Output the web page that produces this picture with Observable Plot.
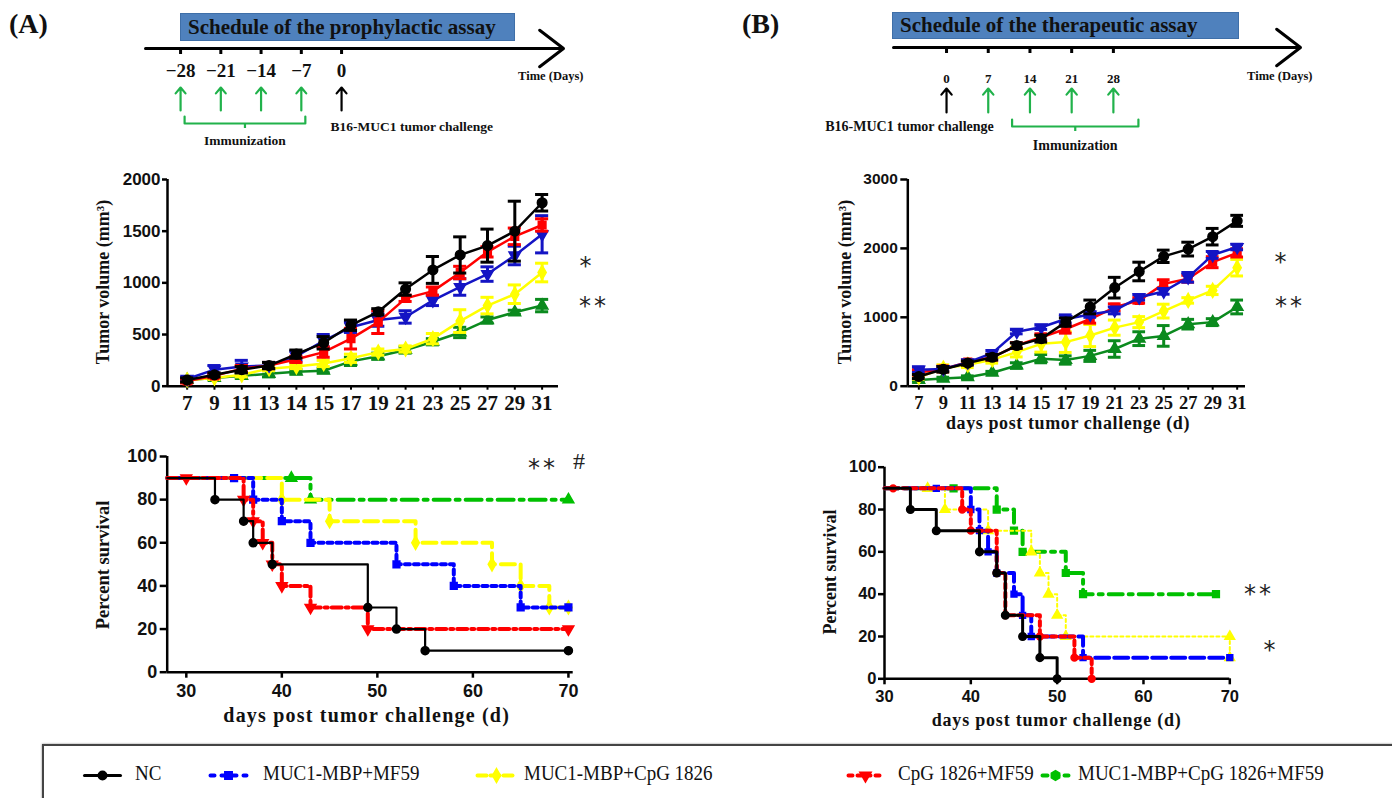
<!DOCTYPE html>
<html><head><meta charset="utf-8">
<script src="https://cdn.jsdelivr.net/npm/d3@7"></script>
<script src="https://cdn.jsdelivr.net/npm/@observablehq/plot@0.6"></script>
<style>
html,body{margin:0;padding:0;background:#fff;}
#root{position:relative;width:1392px;height:798px;overflow:hidden;background:#fff;}
.abs{position:absolute;}
.sb{font-family:"Liberation Serif",serif;font-weight:bold;color:#111;white-space:nowrap;}
.rot{transform:translate(-50%,-50%) rotate(-90deg);}
.ctr{transform:translate(-50%,-50%);}
.box{background:#4f81bd;border:1px solid #3f6fa8;box-sizing:border-box;}
.leg{font-family:"Liberation Serif",serif;font-size:19px;color:#111;white-space:nowrap;transform:scaleY(1.15);transform-origin:left center;}
svg{overflow:visible;}
</style></head>
<body><div id="root"></div>
<script>
// ---------- data ----------
const days = [7,9,11,13,14,15,17,19,21,23,25,27,29,31];
const groupNames = ["NC","MUC1-MBP+MF59","MUC1-MBP+CpG 1826","CpG 1826+MF59","MUC1-MBP+CpG 1826+MF59"];

// Panel A tumor volume (mean, error)
const volA_NC      = [60,110,160,200,310,420,590,720,940,1125,1270,1360,1500,1775];
const volA_NC_err  = [20,20,30,30,40,60,50,30,60,130,175,160,290,80];
const volA_MF59    = [70,160,190,200,290,440,570,640,670,830,960,1085,1265,1470];
const volA_MF59_err= [20,40,60,30,50,60,50,60,60,50,80,70,90,180];
const volA_CpG     = [60,80,110,170,190,220,270,330,360,460,630,780,890,1100];
const volA_CpG_err = [15,15,20,20,20,30,40,30,30,50,110,80,90,90];
const volA_CM      = [50,100,170,200,260,330,460,620,850,920,1100,1300,1450,1560];
const volA_CM_err  = [20,20,30,30,30,50,100,110,30,40,60,50,80,60];
const volA_All     = [60,80,100,120,140,150,240,290,350,430,520,640,715,780];
const volA_All_err = [15,15,20,30,20,20,40,30,30,30,50,30,20,60];

// Panel B tumor volume (mean, error)
const volB_NC      = [140,245,335,420,590,690,930,1150,1430,1665,1885,1990,2170,2400];
const volB_NC_err  = [30,40,30,40,40,50,60,100,150,135,90,100,120,80];
const volB_MF59    = [240,250,345,480,790,855,975,1040,1100,1290,1375,1580,1905,2020];
const volB_MF59_err= [40,30,30,30,30,30,60,40,50,40,40,70,50,40];
const volB_CpG     = [130,260,310,385,495,615,640,735,850,930,1090,1245,1390,1720];
const volB_CpG_err = [30,50,40,50,70,120,150,160,110,80,100,40,60,120];
const volB_CM      = [200,250,350,420,590,710,830,975,1145,1245,1485,1560,1800,1935];
const volB_CM_err  = [40,40,30,40,40,50,60,60,50,40,60,50,80,60];
const volB_All     = [90,110,130,195,300,400,380,440,540,690,730,900,930,1150];
const volB_All_err = [20,20,20,20,40,60,60,80,120,100,150,70,50,100];

// Survival A: step points [day, %] and censored marks
const survA_NC   = [[28,90],[33,80],[36,70],[37,60],[39,50],[49,30],[52,20],[55,10],[70,10]];
const survA_MF59 = [[28,90],[37,80],[40,70],[43,60],[52,50],[58,40],[65,30],[70,30]];
const survA_CpG  = [[28,90],[40,80],[45,70],[54,60],[62,50],[65,40],[68,30],[70,30]];
const survA_CM   = [[28,90],[36,80],[37,70],[38,60],[39,50],[40,40],[43,30],[49,20],[70,20]];
const survA_All  = [[28,90],[43,80],[70,80]];
const censA_MF59 = [[35,90]];
const censA_CM   = [[30,90]];
const censA_All  = [[41,90]];

// Survival B
const survB_NC   = [[30,90],[33,80],[36,70],[41,60],[43,50],[44,30],[46,20],[48,10],[50,0]];
const survB_MF59 = [[30,90],[40,80],[41,70],[42,60],[43,50],[45,40],[46,30],[47,20],[53,10],[70,10]];
const survB_CM   = [[30,90],[39,80],[40,70],[43,50],[44,30],[48,20],[52,10],[54,0]];
const survB_CpG  = [[30,90],[37,80],[42,70],[47,60],[48,50],[49,40],[50,30],[51,20],[70,20],[70,10]];
const survB_All  = [[30,90],[43,80],[45,70],[46,60],[51,50],[53,40],[68.4,40]];
const censB_CM   = [[31,90]];
const censB_CpG  = [[35,90]];
const censB_MF59 = [[36,90]];
const censB_All  = [[38,90]];

// Schedules
const schedA_days = [-28,-21,-14,-7,0];
const schedA_immun = [-28,-21,-14,-7];
const schedB_days = [0,7,14,21,28];
const schedB_immun = [7,14,21,28];
const challengeDay = 0;

// ---------- helpers ----------
const root = document.getElementById("root");
const SERIF = "Liberation Serif, Times New Roman, serif";
const SANS = "Liberation Sans, Arial, sans-serif";
function place(el, left, top){ el.style.position="absolute"; el.style.left=left+"px"; el.style.top=top+"px"; root.appendChild(el); return el; }
function html(cls, text, left, top, css){ const d=document.createElement("div"); d.className="abs "+cls; d.textContent=text; Object.assign(d.style, css||{}); d.style.left=left+"px"; d.style.top=top+"px"; root.appendChild(d); return d; }
const minusFmt = d => d < 0 ? "\u2212" + Math.abs(d) : String(d);
const plainFmt = d => String(d);

// ---------- schedule ----------
function schedPlot(o){
  const green = "#21b24b";
  const yAxisLine = o.lineY;
  const bx = o.bracket;
  const mid = (bx[0]+bx[1])/2;
  const bracketPts = [[bx[0], o.brY0],[bx[0], o.brY1],[bx[1], o.brY1],[bx[1], o.brY0]];
  return Plot.plot({
    width:o.width, height:160, marginLeft:o.ml, marginRight:o.mr, marginTop:0, marginBottom:0,
    x:{domain:o.xDomain, axis:null}, y:{domain:[0,160], range:[0,160], axis:null},
    style:{background:"transparent", overflow:"visible"},
    marks:[
      Plot.arrow([o.xDomain], {x1:d=>d[0], x2:d=>d[1], y1:yAxisLine, y2:yAxisLine, stroke:"#000", strokeWidth:3, headLength:15, headAngle:75}),
      Plot.ruleX(o.days, {x:d=>d, y1:yAxisLine, y2:yAxisLine+6, stroke:"#000", strokeWidth:3}),
      Plot.text(o.days, {x:d=>d, y:o.labY, text:minusFmt, fontFamily:SERIF, fontWeight:"bold", fontSize:o.labSize, fill:"#111"}),
      Plot.arrow(o.immun, {x1:d=>d, x2:d=>d, y1:o.arY1, y2:o.arY0, stroke:green, strokeWidth:2.2, headLength:10, headAngle:80}),
      Plot.arrow([challengeDay], {x1:d=>d, x2:d=>d, y1:o.arY1, y2:o.arY0, stroke:"#000", strokeWidth:2.2, headLength:10, headAngle:80}),
      Plot.line(bracketPts, {x:d=>d[0], y:d=>d[1], stroke:green, strokeWidth:2.2, strokeLinejoin:"round"}),
      Plot.ruleX([mid], {x:d=>d, y1:o.brY1, y2:o.brY1+5, stroke:green, strokeWidth:2.2}),
      Plot.text(["Immunization"], {x:mid, y:o.immY, text:d=>d, fontFamily:SERIF, fontWeight:"bold", fontSize:o.immSize, fill:"#111"}),
      Plot.text(["B16-MUC1 tumor challenge"], {x:challengeDay, dx:o.chDx, y:o.chY, text:d=>d, textAnchor:o.chAnchor, fontFamily:SERIF, fontWeight:"bold", fontSize:o.chSize, fill:"#111"}),
      Plot.text(["Time (Days)"], {frameAnchor:"right", dx:o.timeDx, y:o.timeY, text:d=>d, textAnchor:"end", fontFamily:SERIF, fontWeight:"bold", fontSize:12.5, fill:"#111"})
    ]
  });
}

// ---------- tumor volume ----------
function volPlot(o){
  const idx = d3.range(days.length);
  const marks = [
    Plot.ruleY([0], {stroke:"#000", strokeWidth:2.5}),
    Plot.ruleX([o.xDomain[0]], {y1:0, y2:o.yMax, stroke:"#000", strokeWidth:2.5}),
    Plot.axisY({ticks:o.yTicks, tickFormat:plainFmt, tickSize:o.yts, tickPadding:o.ytp, strokeWidth:2.5, fontFamily:SANS, fontWeight:"bold", fontSize:o.yFont, fill:"#111", label:null}),
    Plot.axisX({ticks:idx, tickFormat:i=>days[i], tickSize:4, tickPadding:o.xtp, strokeWidth:2, fontFamily:SERIF, fontWeight:"bold", fontSize:o.xFont, fill:"#111", label:null})
  ];
  for (const s of o.series){
    const d = s.v.map((v,i)=>({i, v, e:s.e[i]}));
    marks.push(
      Plot.ruleX(d, {x:"i", y1:r=>r.v-r.e, y2:r=>r.v+r.e, stroke:s.color, strokeWidth:3}),
      Plot.ruleY(d, {y:r=>r.v+r.e, x1:r=>r.i-o.cap, x2:r=>r.i+o.cap, stroke:s.color, strokeWidth:3}),
      Plot.ruleY(d, {y:r=>r.v-r.e, x1:r=>r.i-o.cap, x2:r=>r.i+o.cap, stroke:s.color, strokeWidth:3}),
      Plot.line(d, {x:"i", y:"v", stroke:s.color, strokeWidth:2.5}),
      Plot.dot(d, {x:"i", y:"v", symbol:s.symbol, rotate:s.rot||0, r:s.symbol==="circle"?4.8:4.3, fill:s.color, stroke:s.color})
    );
  }
  return Plot.plot({
    width:o.width, height:o.height, marginLeft:o.ml, marginRight:o.mr, marginTop:o.mt, marginBottom:o.mb,
    x:{domain:o.xDomain}, y:{domain:[0,o.yMax]},
    style:{background:"transparent", overflow:"visible"},
    marks
  });
}

// ---------- survival ----------
function survPlot(o){
  const marks = [
    Plot.ruleY([0], {stroke:"#000", strokeWidth:2.5}),
    Plot.ruleX([o.xDomain[0]], {y1:0, y2:100, stroke:"#000", strokeWidth:2.5}),
    Plot.axisY({ticks:[0,20,40,60,80,100], tickFormat:plainFmt, tickSize:o.yts, tickPadding:o.ytp, strokeWidth:2.5, fontFamily:SANS, fontWeight:"bold", fontSize:o.font, fill:"#111", label:null}),
    Plot.axisX({ticks:[30,40,50,60,70], tickFormat:plainFmt, tickSize:6, tickPadding:o.xtp, strokeWidth:2.5, fontFamily:SANS, fontWeight:"bold", fontSize:o.font, fill:"#111", label:null})
  ];
  for (const s of o.series){
    marks.push(
      Plot.line(s.pts, {x:d=>d[0], y:d=>d[1], curve:"step-after", stroke:s.color, strokeWidth:s.w, strokeDasharray:s.dash||null}),
      Plot.dot(s.pts.slice(1).concat(s.cens||[]), {x:d=>d[0], y:d=>d[1], symbol:s.symbol, rotate:s.rot||0, r:s.r||4, fill:s.color, stroke:s.color})
    );
  }
  return Plot.plot({
    width:o.width, height:o.height, marginLeft:o.ml, marginRight:o.mr, marginTop:o.mt, marginBottom:o.mb,
    x:{domain:o.xDomain}, y:{domain:[0,100]},
    style:{background:"transparent", overflow:"visible"},
    marks
  });
}

// ---------- colours ----------
const volColors = {NC:"#000000", MF59:"#1414c4", CpG:"#ffff00", CM:"#ff0000", All:"#0b8a1e"};
const survColors = {NC:"#000000", MF59:"#0000ff", CpG:"#ffff00", CM:"#ff0000", All:"#00c000"};

// ---------- build ----------
html("sb","(A)",9,8,{fontSize:"28px"});
html("sb","(B)",742,8,{fontSize:"28px"});
html("box sb","Schedule of the prophylactic assay",180,13,{width:"335px",height:"28px",fontSize:"21px",lineHeight:"26px",paddingLeft:"7px"});
html("box sb","Schedule of the therapeutic assay",892,12,{width:"347px",height:"27px",fontSize:"21px",lineHeight:"25px",paddingLeft:"7px"});

place(schedPlot({width:600, ml:145, mr:37, xDomain:[-34.1,38.6], days:schedA_days, immun:schedA_immun,
  lineY:48, labY:70, labSize:19, arY0:87, arY1:110, bracket:[-27.3,-6.3], brY0:116, brY1:123, immY:140, immSize:13.5,
  chDx:-11, chY:126, chAnchor:"start", chSize:13.5, timeDx:20, timeY:75}), 0, 0);

place(schedPlot({width:692, ml:193, mr:92, xDomain:[-8.9,59.4], days:schedB_days, immun:schedB_immun,
  lineY:47, labY:78, labSize:13, arY0:88, arY1:112, bracket:[11,32.2], brY0:119, brY1:126, immY:145, immSize:14,
  chDx:-37, chY:126, chAnchor:"middle", chSize:14, timeDx:12, timeY:75}), 700, 0);

place(volPlot({width:610, height:280, ml:167, mr:52, mt:19, mb:54.3, xDomain:[-0.72,13.6], yMax:2000, yTicks:[0,500,1000,1500,2000],
  yts:5, ytp:2, yFont:17, xFont:21, xtp:5, cap:0.24,
  series:[
    {v:volA_All, e:volA_All_err, color:volColors.All, symbol:"triangle"},
    {v:volA_CpG, e:volA_CpG_err, color:volColors.CpG, symbol:"diamond"},
    {v:volA_MF59, e:volA_MF59_err, color:volColors.MF59, symbol:"triangle", rot:180},
    {v:volA_CM, e:volA_CM_err, color:volColors.CM, symbol:"square"},
    {v:volA_NC, e:volA_NC_err, color:volColors.NC, symbol:"circle"}
  ]}), 0, 160);

place(volPlot({width:600, height:280, ml:207.3, mr:55, mt:19, mb:54.3, xDomain:[-0.45,13.34], yMax:3000, yTicks:[0,1000,2000,3000],
  yts:7, ytp:3, yFont:15.5, xFont:18.5, xtp:6, cap:0.26,
  series:[
    {v:volB_All, e:volB_All_err, color:volColors.All, symbol:"triangle"},
    {v:volB_CpG, e:volB_CpG_err, color:volColors.CpG, symbol:"diamond"},
    {v:volB_CM, e:volB_CM_err, color:volColors.CM, symbol:"square"},
    {v:volB_MF59, e:volB_MF59_err, color:volColors.MF59, symbol:"triangle", rot:180},
    {v:volB_NC, e:volB_NC_err, color:volColors.NC, symbol:"circle"}
  ]}), 700, 160);

place(survPlot({width:610, height:300, ml:166.7, mr:37.3, mt:16, mb:68.3, xDomain:[28,70.5], font:18, yts:7, ytp:3, xtp:6,
  series:[
    {pts:survA_All, cens:censA_All, color:survColors.All, w:4, dash:"16,6,4,6", symbol:"triangle", r:4},
    {pts:survA_CpG, color:survColors.CpG, w:4, dash:"14,6", symbol:"diamond", r:4},
    {pts:survA_MF59, cens:censA_MF59, color:survColors.MF59, w:4, dash:"5,4", symbol:"square", r:3.8},
    {pts:survA_CM, cens:censA_CM, color:survColors.CM, w:4, dash:"10,4,3,4", symbol:"triangle", rot:180, r:4},
    {pts:survA_NC, color:survColors.NC, w:2.2, symbol:"circle", r:4}
  ]}), 0, 440);

place(survPlot({width:600, height:300, ml:184, mr:70.7, mt:26.7, mb:61.7, xDomain:[30,70], font:16.5, yts:6, ytp:2, xtp:5.5,
  series:[
    {pts:survB_All, cens:censB_All, color:survColors.All, w:4, dash:"14,6,4,6", symbol:"square", r:3.8},
    {pts:survB_CpG, cens:censB_CpG, color:survColors.CpG, w:2, dash:"3,3", symbol:"triangle", r:3.6},
    {pts:survB_MF59, cens:censB_MF59, color:survColors.MF59, w:4, dash:"14,5", symbol:"square", r:3.3},
    {pts:survB_CM, cens:censB_CM, color:survColors.CM, w:4, dash:"5,4", symbol:"circle", r:3.4},
    {pts:survB_NC, color:survColors.NC, w:3, symbol:"circle", r:3.8}
  ]}), 700, 440);

html("sb rot","Tumor volume (mm\u00b3)",102.7,281.7,{fontSize:"18px"});
html("sb rot","Tumor volume (mm\u00b3)",845,281.7,{fontSize:"18px"});
html("sb ctr","days post tumor challenge (d)",1068,423,{fontSize:"18px",letterSpacing:"0.6px"});
html("sb rot","Percent survival",102.7,565,{fontSize:"18.5px"});
html("sb rot","Percent survival",830,571.7,{fontSize:"18px"});
html("sb ctr","days post tumor challenge (d)",366.7,715,{fontSize:"20px",letterSpacing:"1.2px"});
html("sb ctr","days post tumor challenge (d)",1056.7,720,{fontSize:"18px",letterSpacing:"0.8px"});

const ann = {fontFamily:"DejaVu Sans, sans-serif", fontSize:"24px", color:"#222", letterSpacing:"3px"};
html("ctr","*",587,266,ann);
html("ctr","**",594,306,ann);
html("ctr","*",1282,262,ann);
html("ctr","**",1290,306,ann);
html("ctr","**",543,468,ann);
html("ctr","#",579,461,{fontFamily:SERIF, fontSize:"24px", color:"#222"});
html("ctr","**",1259,594,ann);
html("ctr","*",1271,650,ann);

const legBox = document.createElement("div");
Object.assign(legBox.style,{border:"2px solid #444", width:"1400px", height:"100px", boxSizing:"border-box", boxShadow:"0 0 2px #888"});
place(legBox, 42, 744);
function swatch(color, dash, symbol, rot, w, width){
  return Plot.plot({width:width, height:20, margin:0, x:{domain:[0,1], axis:null}, y:{domain:[0,1], axis:null},
    style:{background:"transparent", overflow:"visible"},
    marks:[
      Plot.line([[0,0.5],[1,0.5]], {x:d=>d[0], y:d=>d[1], stroke:color, strokeWidth:w, strokeDasharray:dash||null}),
      Plot.dot([[0.5,0.5]], {x:d=>d[0], y:d=>d[1], symbol, rotate:rot||0, r:4.2, fill:color, stroke:color})
    ]});
}
const legItems = [
  {name:groupNames[0], color:survColors.NC, dash:null, symbol:"circle", w:3, sx:84, sw:36, tx:135},
  {name:groupNames[1], color:survColors.MF59, dash:"4,7", symbol:"square", w:4, sx:210, sw:36, tx:263},
  {name:groupNames[2], color:survColors.CpG, dash:"9,4", symbol:"diamond", w:4, sx:477, sw:38, tx:524},
  {name:groupNames[3], color:survColors.CM, dash:"4,5", symbol:"triangle", rot:180, w:4, sx:848, sw:34, tx:898},
  {name:groupNames[4], color:survColors.All, dash:"5,6", symbol:"hexagon", w:4, sx:1042, sw:26, tx:1078}
];
for (const it of legItems){
  place(swatch(it.color, it.dash, it.symbol, it.rot, it.w, it.sw), it.sx, 765);
  html("leg", it.name, it.tx, 762, {});
}
</script></body></html>
